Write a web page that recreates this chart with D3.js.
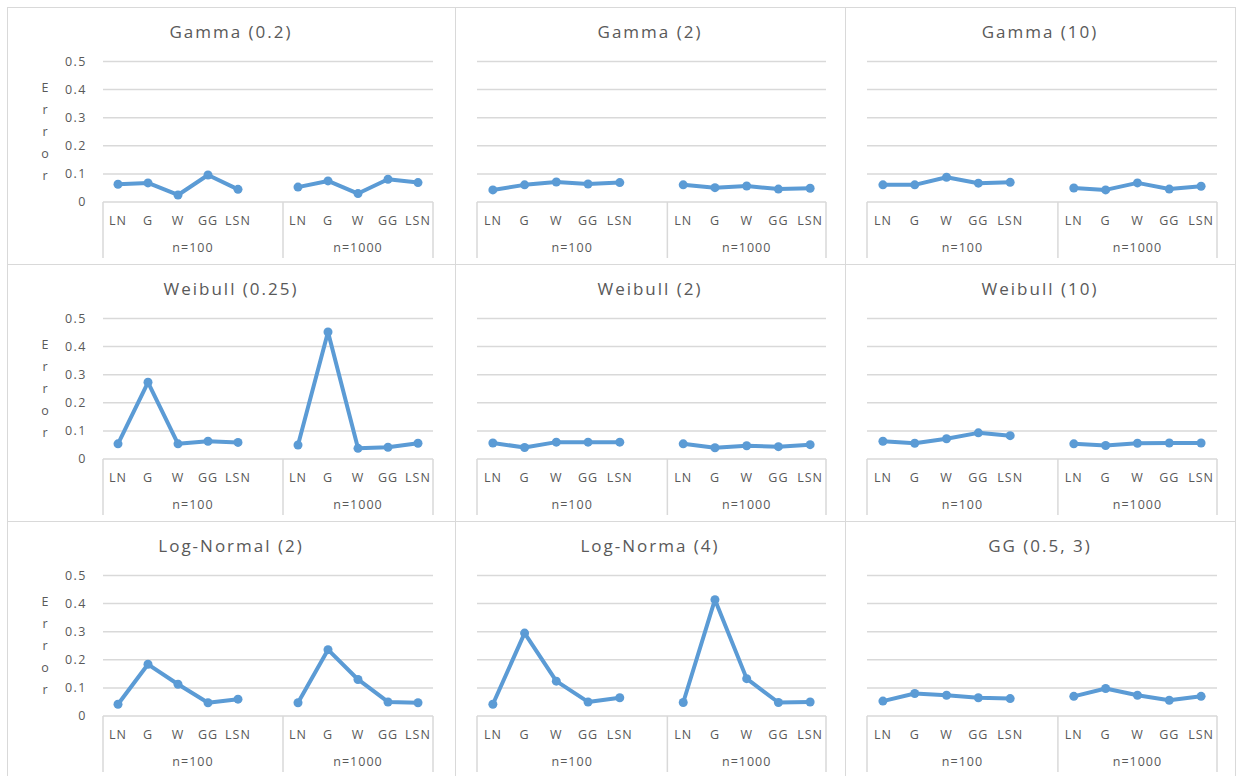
<!DOCTYPE html>
<html>
<head>
<meta charset="utf-8">
<script src="https://cdn.jsdelivr.net/npm/d3@7"></script>
<style>
  body { margin: 0; background: #fff; }
  text { font-family: "Open Sans", sans-serif; fill: #595959; }
</style>
</head>
<body>
<svg id="chart"></svg>
<script>
// data
const categories = [ 'LN', 'G', 'W', 'GG', 'LSN' ];
const groups = [ 'n=100', 'n=1000' ];
const titles = [
    'Gamma (0.2)', 'Gamma (2)', 'Gamma (10)',
    'Weibull (0.25)', 'Weibull (2)', 'Weibull (10)',
    'Log-Normal (2)', 'Log-Norma (4)', 'GG (0.5, 3)'
];
const err_n100 = [
    [ 0.063, 0.068, 0.025, 0.096, 0.045 ],
    [ 0.043, 0.061, 0.071, 0.064, 0.069 ],
    [ 0.061, 0.061, 0.088, 0.067, 0.070 ],
    [ 0.054, 0.273, 0.054, 0.063, 0.059 ],
    [ 0.057, 0.041, 0.060, 0.060, 0.060 ],
    [ 0.063, 0.056, 0.072, 0.093, 0.083 ],
    [ 0.042, 0.184, 0.113, 0.047, 0.060 ],
    [ 0.042, 0.295, 0.124, 0.050, 0.065 ],
    [ 0.053, 0.080, 0.074, 0.065, 0.062 ]
];
const err_n1000 = [
    [ 0.053, 0.075, 0.030, 0.081, 0.069 ],
    [ 0.061, 0.051, 0.057, 0.046, 0.049 ],
    [ 0.050, 0.043, 0.068, 0.046, 0.056 ],
    [ 0.050, 0.452, 0.038, 0.042, 0.056 ],
    [ 0.054, 0.040, 0.047, 0.044, 0.051 ],
    [ 0.054, 0.048, 0.056, 0.057, 0.057 ],
    [ 0.047, 0.236, 0.130, 0.050, 0.047 ],
    [ 0.048, 0.414, 0.133, 0.048, 0.050 ],
    [ 0.070, 0.098, 0.074, 0.056, 0.070 ]
];
const yticks = [ 0, 0.1, 0.2, 0.3, 0.4, 0.5 ];
const ylabel = 'Error';

const W = 1238, H = 776;
const col_x = [ 7, 455, 845 ];
const col_w = [ 448, 390, 390 ];
const row_y = [ 7, 264, 521 ];
const row_h = 257;
const plot_left = [ 96, 22, 22 ];
const plot_w = [ 330, 349, 350 ];
const plot_top = 54.5, plot_h = 140.5;

const line_color = '#5B9BD5';
const grid_color = '#D9D9D9';

const svg = d3.select( '#chart' )
    .attr( 'width', W )
    .attr( 'height', H );

// slots: 5 categories + one empty slot for the first group, then 5 for the second
const slots = [];
groups.forEach( ( g, gi ) => {
    categories.forEach( c => slots.push( g + '|' + c ) );
    if ( gi == 0 ) slots.push( g + '|' );
});

titles.forEach( ( title, i ) => {
    const col = i % 3, row = Math.floor( i / 3 );

    const panel = svg.append( 'g' )
        .attr( 'transform', `translate(${col_x[col]}, ${row_y[row]})` );

    panel.append( 'rect' )
        .attr( 'x', 0.5 )
        .attr( 'y', 0.5 )
        .attr( 'width', col_w[col] )
        .attr( 'height', row_h )
        .attr( 'fill', '#fff' )
        .attr( 'stroke', grid_color );

    panel.append( 'text' )
        .attr( 'x', col_w[col] / 2 )
        .attr( 'y', 25 )
        .attr( 'dy', '0.35em' )
        .attr( 'text-anchor', 'middle' )
        .style( 'font-size', '17px' )
        .style( 'letter-spacing', '2px' )
        .text( title );

    const chart = panel.append( 'g' )
        .attr( 'transform', `translate(${plot_left[col]}, ${plot_top})` );

    const xscale = d3.scaleBand()
        .domain( slots )
        .range( [ 0, plot_w[col] ] );

    const yscale = d3.scaleLinear()
        .domain( [ 0, 0.5 ] )
        .range( [ plot_h, 0 ] );

    // gridlines
    chart.selectAll( '.grid' )
        .data( yticks.slice( 1 ) )
        .enter()
        .append( 'line' )
        .attr( 'x1', 0 )
        .attr( 'x2', plot_w[col] )
        .attr( 'y1', d => yscale( d ) )
        .attr( 'y2', d => yscale( d ) )
        .attr( 'stroke', grid_color )
        .attr( 'stroke-width', 1.5 );

    // horizontal axis line and group separators
    chart.append( 'line' )
        .attr( 'x1', 0 )
        .attr( 'x2', plot_w[col] )
        .attr( 'y1', yscale( 0 ) )
        .attr( 'y2', yscale( 0 ) )
        .attr( 'stroke', grid_color )
        .attr( 'stroke-width', 1.5 );

    const seps = [ 0, xscale( groups[1] + '|' + categories[0] ), plot_w[col] ];
    chart.selectAll( '.sep' )
        .data( seps )
        .enter()
        .append( 'line' )
        .attr( 'x1', d => d )
        .attr( 'x2', d => d )
        .attr( 'y1', plot_h )
        .attr( 'y2', plot_h + 56 )
        .attr( 'stroke', grid_color )
        .attr( 'stroke-width', 1.5 );

    // category labels
    chart.selectAll( '.cat' )
        .data( slots.filter( s => s.split( '|' )[1] != '' ) )
        .enter()
        .append( 'text' )
        .attr( 'x', d => xscale( d ) + xscale.bandwidth() / 2 )
        .attr( 'y', plot_h + 19 )
        .attr( 'dy', '0.35em' )
        .attr( 'text-anchor', 'middle' )
        .style( 'font-size', '12.5px' )
        .style( 'letter-spacing', '1px' )
        .text( d => d.split( '|' )[1] );

    // group labels
    chart.selectAll( '.grp' )
        .data( groups )
        .enter()
        .append( 'text' )
        .attr( 'x', ( d, gi ) => ( seps[gi] + seps[gi + 1] ) / 2 )
        .attr( 'y', plot_h + 46 )
        .attr( 'dy', '0.35em' )
        .attr( 'text-anchor', 'middle' )
        .style( 'font-size', '12.5px' )
        .style( 'letter-spacing', '1px' )
        .text( d => d );

    // y tick labels and title only on the left column
    if ( col == 0 ) {
        chart.selectAll( '.ytick' )
            .data( yticks )
            .enter()
            .append( 'text' )
            .attr( 'x', -16 )
            .attr( 'y', d => yscale( d ) )
            .attr( 'dy', '0.35em' )
            .attr( 'text-anchor', 'end' )
            .style( 'font-size', '12.5px' )
            .style( 'letter-spacing', '1.5px' )
            .text( d => d );

        chart.selectAll( '.ylab' )
            .data( ylabel.split( '' ) )
            .enter()
            .append( 'text' )
            .attr( 'x', -58 )
            .attr( 'y', ( d, k ) => plot_h / 2 - 44 + k * 22 )
            .attr( 'dy', '0.35em' )
            .attr( 'text-anchor', 'middle' )
            .style( 'font-size', '12.5px' )
            .text( d => d );
    }

    // lines, one per group
    const series = [ err_n100[i], err_n1000[i] ];
    const line = d3.line()
        .x( d => xscale( d.slot ) + xscale.bandwidth() / 2 )
        .y( d => yscale( d.value ) );

    series.forEach( ( vals, gi ) => {
        const pts = vals.map( ( v, k ) => ({ slot: groups[gi] + '|' + categories[k], value: v }) );

        chart.append( 'path' )
            .datum( pts )
            .attr( 'd', line )
            .attr( 'fill', 'none' )
            .attr( 'stroke', line_color )
            .attr( 'stroke-width', 4 )
            .attr( 'stroke-linejoin', 'round' );

        chart.selectAll( '.pt' + gi )
            .data( pts )
            .enter()
            .append( 'circle' )
            .attr( 'cx', d => xscale( d.slot ) + xscale.bandwidth() / 2 )
            .attr( 'cy', d => yscale( d.value ) )
            .attr( 'r', 4.5 )
            .attr( 'fill', line_color );
    });
});
</script>
</body>
</html>
